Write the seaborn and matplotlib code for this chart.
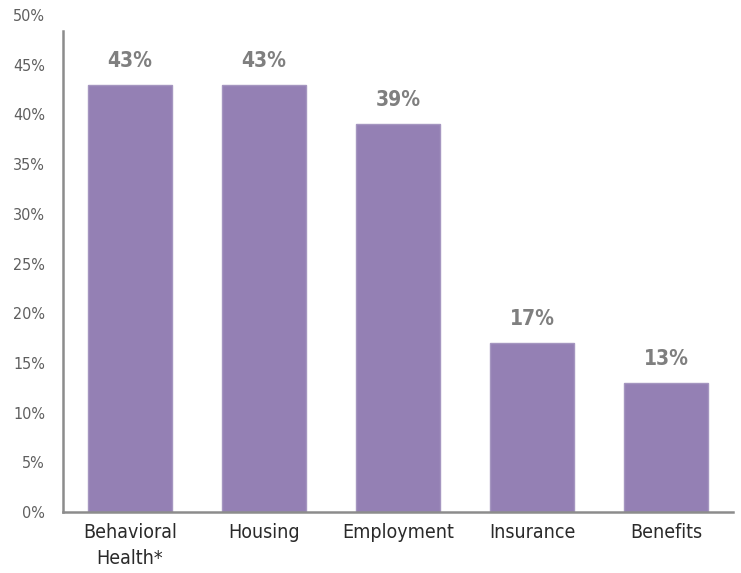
import pandas as pd
import seaborn as sns
import matplotlib.pyplot as plt
from matplotlib.ticker import FuncFormatter

categories = ['Behavioral\nHealth*', 'Housing', 'Employment', 'Insurance', 'Benefits']
values = [43, 43, 39, 17, 13]

df = pd.DataFrame({'category': categories, 'value': values})

sns.set_style('white')
plt.rcParams['font.family'] = ['DejaVu Sans']
plt.rcParams['font.stretch'] = 'condensed'

fig = plt.figure(figsize=(7.41, 5.73), dpi=100)
ax = fig.add_axes([63 / 741, 61 / 573, 670 / 741, 497 / 573])

sns.barplot(data=df, x='category', y='value', color='#9480b4', saturation=1,
            width=0.62, edgecolor='#a596c0', linewidth=1, ax=ax)

ax.set_ylim(0, 50)
ax.set_xlim(-0.5, 4.5)
ax.set_yticks(range(0, 51, 5))
ax.yaxis.set_major_formatter(FuncFormatter(lambda v, p: f'{int(v)}%'))
ax.tick_params(axis='y', length=0, pad=13, labelsize=11.5, labelcolor='#5f5f5f')
ax.tick_params(axis='x', length=0, pad=8, labelsize=14, labelcolor='#2a2a2a')
for lbl in ax.get_xticklabels():
    lbl.set_linespacing(1.45)
ax.set_xlabel('')
ax.set_ylabel('')

for side in ['top', 'right']:
    ax.spines[side].set_visible(False)
for side in ['left', 'bottom']:
    ax.spines[side].set_color('#8c8c8c')
    ax.spines[side].set_linewidth(1.8)
ax.spines['left'].set_bounds(0, 48.4)

# etiquetas de valor encima de cada barra
for i, v in enumerate(values):
    ax.annotate(f'{v}%', (i, v), xytext=(0, 10), textcoords='offset points',
                ha='center', va='bottom', fontsize=15, fontweight='bold', color='#7f7f7f')

plt.savefig('out.png', dpi=100)
